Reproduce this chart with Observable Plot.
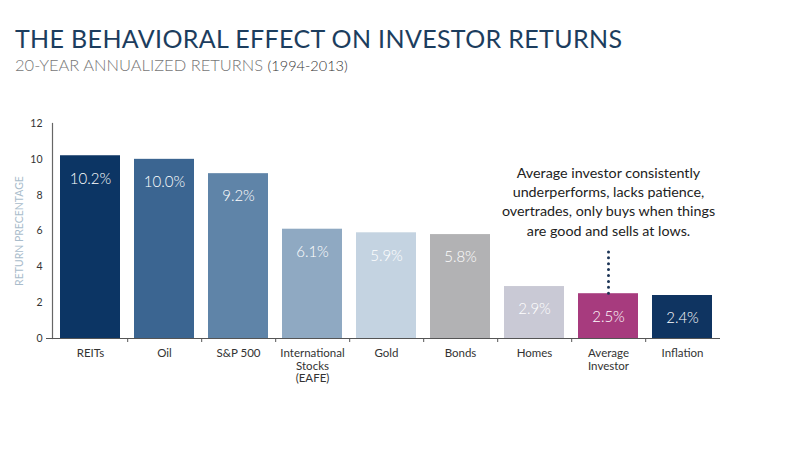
<!DOCTYPE html>
<html>
<head>
<meta charset="utf-8">
<script src="https://cdn.jsdelivr.net/npm/d3@7"></script>
<script src="https://cdn.jsdelivr.net/npm/@observablehq/plot@0.6"></script>
<style>
  body { margin: 0; background: #fff; font-family: Lato, "Open Sans", sans-serif; }
  #wrap { position: relative; width: 785px; height: 457px; }
  #title { position: absolute; left: 15px; top: 26px; font-size: 25px; line-height: 25px; font-weight: 400; color: #1c3d5e; letter-spacing: 0.35px; white-space: nowrap; }
  #subtitle { position: absolute; left: 15px; top: 57px; font-size: 16.5px; line-height: 16px; font-weight: 300; color: #777; letter-spacing: 0px; white-space: nowrap; }
  #subtitle span { color: #333; font-size: 14.5px; }
  #chart { position: absolute; left: 0; top: 85px; }
</style>
</head>
<body>
<div id="wrap">
  <div id="title">THE BEHAVIORAL EFFECT ON INVESTOR RETURNS</div>
  <div id="subtitle">20-YEAR ANNUALIZED RETURNS <span>(1994-2013)</span></div>
  <div id="chart"></div>
</div>
<script>
const categories = ["REITs", "Oil", "S&P 500", "International Stocks (EAFE)", "Gold", "Bonds", "Homes", "Average Investor", "Inflation"];
const tickLabels = ["REITs", "Oil", "S&P 500", "International\nStocks\n(EAFE)", "Gold", "Bonds", "Homes", "Average\nInvestor", "Inflation"];
const values = [10.2, 10.0, 9.2, 6.1, 5.9, 5.8, 2.9, 2.5, 2.4];
const colors = ["#0c3564", "#3b6591", "#5f84a8", "#8fa9c2", "#c4d3e1", "#b2b2b4", "#c9c9d5", "#a73b7e", "#0f3461"];
const yTicks = [0, 2, 4, 6, 8, 10, 12];
const yLabel = "RETURN PRECENTAGE";
const annotationCategory = "Average Investor";
const annotationText = "Average investor consistently\nunderperforms, lacks patience,\novertrades, only buys when things\nare good and sells at lows.";
const annotationTop = 4.8;

const data = categories.map((c, i) => ({category: c, label: tickLabels[i], value: values[i], color: colors[i]}));
const annot = [{category: annotationCategory, y1: values[categories.indexOf(annotationCategory)], y2: annotationTop, text: annotationText}];

const chart = Plot.plot({
  width: 785,
  height: 323,
  marginTop: 38,
  marginBottom: 70,
  marginLeft: 52,
  marginRight: 66,
  style: {fontFamily: "Lato, 'Open Sans', sans-serif", background: "transparent"},
  x: {domain: categories, paddingInner: 0.195, paddingOuter: 0.08, axis: null},
  y: {domain: [0, 12], axis: null},
  color: {type: "identity"},
  marks: [
    Plot.barY(data, {x: "category", y: "value", fill: "color"}),
    Plot.text(data, {x: "category", y: "value", text: d => d.value.toFixed(1) + "%", fill: "white", fontSize: 15, fontWeight: 300, dy: 23}),
    Plot.frame({anchor: "left", stroke: "#666", strokeWidth: 1.2}),
    Plot.ruleY([0], {stroke: "#555", strokeWidth: 1.2, insetLeft: -6, insetRight: -1}),
    Plot.ruleX(categories.slice(0, -1), {x: d => d, y1: 0, y2: 0, insetBottom: -4, dx: 37.2, stroke: "#555", strokeWidth: 1}),
    Plot.axisY({ticks: yTicks, tickSize: 0, tickPadding: 10, fontSize: 10.5, color: "#333", label: null}),
    Plot.text([yLabel], {frameAnchor: "left", textAnchor: "middle", rotate: -90, dx: -33, fill: "#a9bccb", fontSize: 10.5, text: d => d}),
    Plot.text(data, {x: "category", y: 0, text: "label", lineAnchor: "top", dy: 9, lineHeight: 1.12, fontSize: 11.5, fill: "#333"}),
    Plot.ruleX(annot, {x: "category", y1: "y1", y2: "y2", stroke: "#1d3557", strokeWidth: 3, strokeDasharray: "0,5.9", strokeLinecap: "round", insetBottom: 4}),
    Plot.text(annot, {x: "category", y: "y2", text: "text", lineAnchor: "bottom", dy: -17, lineHeight: 1.33, fontSize: 14.3, fill: "#222"})
  ]
});
document.getElementById("chart").appendChild(chart);
</script>
</body>
</html>
